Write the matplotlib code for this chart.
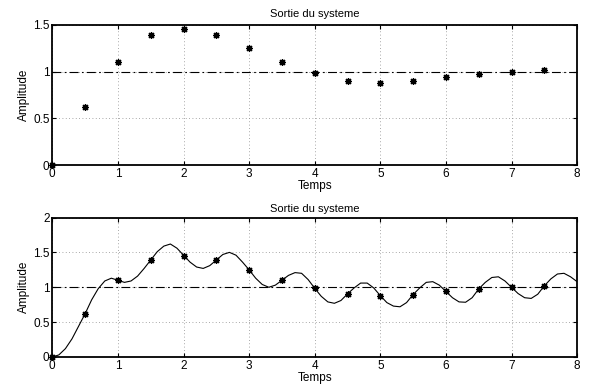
import numpy as np
import matplotlib
matplotlib.use("Agg")
import matplotlib.pyplot as plt

plt.rcParams['font.family'] = ['Liberation Sans', 'DejaVu Sans']

# Sampled output of the system (every 0.5 s)
t_samples = [0.0, 0.5, 1.0, 1.5, 2.0, 2.5, 3.0, 3.5, 4.0, 4.5, 5.0, 5.5, 6.0, 6.5, 7.0, 7.5]
y_samples = [0.0, 0.62, 1.10, 1.39, 1.455, 1.39, 1.25, 1.10, 0.985, 0.905, 0.88, 0.895, 0.94, 0.975, 1.00, 1.02]

# Continuous output (every 0.1 s)
t_cont = [round(0.1 * k, 1) for k in range(81)]
y_cont = [0.00, 0.03, 0.12, 0.26, 0.44, 0.62, 0.82, 0.98, 1.09, 1.13,
          1.10, 1.07, 1.09, 1.16, 1.27, 1.39, 1.51, 1.59, 1.62, 1.56,
          1.46, 1.36, 1.29, 1.27, 1.31, 1.39, 1.47, 1.50, 1.46, 1.36,
          1.25, 1.13, 1.04, 1.00, 1.03, 1.10, 1.17, 1.21, 1.20, 1.11,
          0.985, 0.87, 0.79, 0.77, 0.81, 0.905, 0.99, 1.06, 1.06, 0.99,
          0.88, 0.78, 0.73, 0.72, 0.78, 0.895, 0.99, 1.07, 1.08, 1.03,
          0.94, 0.85, 0.79, 0.785, 0.85, 0.975, 1.07, 1.14, 1.15, 1.09,
          1.00, 0.91, 0.85, 0.84, 0.90, 1.02, 1.12, 1.19, 1.20, 1.15,
          1.08]

setpoint = 1.0
title_text = "Sortie du systeme"
xlabel_text = "Temps"
ylabel_text = "Amplitude"
x_ticks = [0, 1, 2, 3, 4, 5, 6, 7, 8]
y_ticks_top = [0, 0.5, 1, 1.5]
y_ticks_bottom = [0, 0.5, 1, 1.5, 2]

fig = plt.figure(figsize=(5.91, 3.88), dpi=100)
ax1 = fig.add_axes([0.0885, 0.5747, 0.888, 0.361])
ax2 = fig.add_axes([0.0885, 0.0799, 0.888, 0.3595])

star = (8, 2, 0)


def style(ax, yticks, ylim, title_pad):
    ax.set_xlim(0, 8)
    ax.set_ylim(*ylim)
    ax.set_xticks(x_ticks)
    ax.set_xticklabels([str(v) for v in x_ticks])
    ax.set_yticks(yticks)
    ax.set_yticklabels([f"{v:g}" for v in yticks])
    ax.grid(True, linestyle=(0, (1, 3)), color='0.55', linewidth=0.6)
    ax.tick_params(direction='in', length=3, width=0.8, labelsize=8.5,
                   top=True, right=True, pad=2)
    for s in ax.spines.values():
        s.set_linewidth(1.3)
    ax.set_title(title_text, fontsize=8, pad=title_pad)
    ax.set_xlabel(xlabel_text, fontsize=8.5, labelpad=0)
    ax.set_ylabel(ylabel_text, fontsize=8.5, labelpad=2)
    ax.axhline(setpoint, color='black', linestyle=(0, (8, 3, 1.5, 3)), linewidth=0.8)


style(ax1, y_ticks_top, (0, 1.5), 6)
ax1.plot(t_samples, y_samples, linestyle='none', marker=star, markersize=5,
         color='black', markeredgewidth=0.9, clip_on=False)

style(ax2, y_ticks_bottom, (0, 2), 4)
ax2.plot(t_cont, y_cont, color='black', linewidth=0.8)
ax2.plot(t_samples, y_samples, linestyle='none', marker=star, markersize=5,
         color='black', markeredgewidth=0.9, clip_on=False)

fig.savefig("out.png", dpi=100)
